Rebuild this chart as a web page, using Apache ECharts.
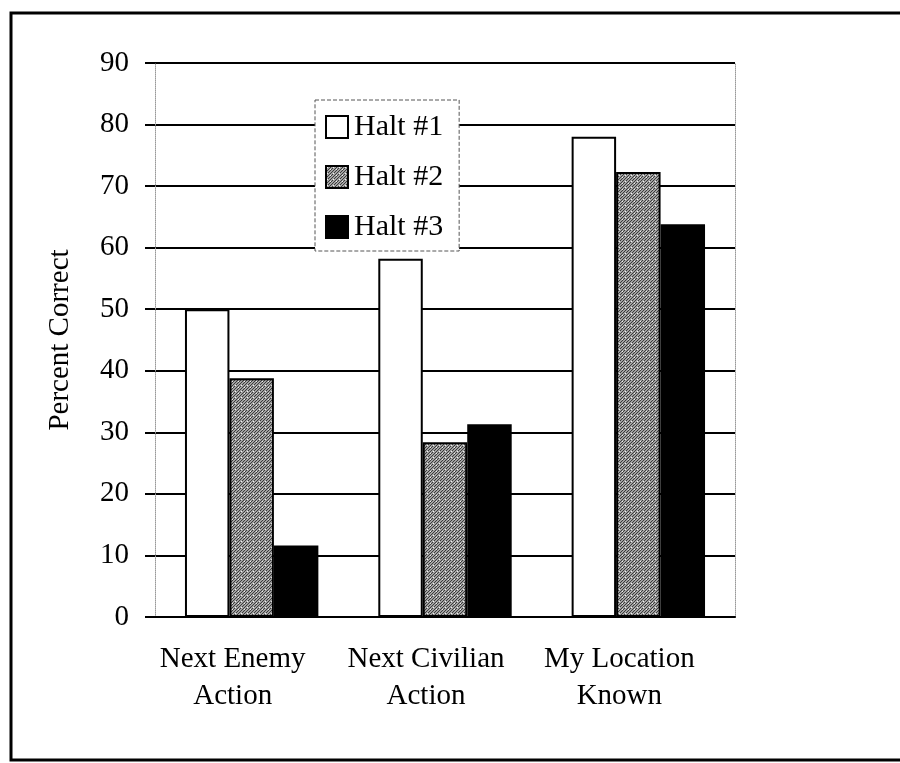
<!DOCTYPE html>
<html>
<head>
<meta charset="utf-8">
<script src="https://cdn.jsdelivr.net/npm/echarts@6/dist/echarts.min.js"></script>
<style>html,body{margin:0;padding:0;background:#fff}#c{width:900px;height:763px}</style>
</head>
<body>
<div id="c"></div>
<script>
const categories = ['Next Enemy\nAction', 'Next Civilian\nAction', 'My Location\nKnown'];
const seriesNames = ['Halt #1', 'Halt #2', 'Halt #3'];
const halt1 = [50, 58.2, 78];
const halt2 = [38.8, 28.4, 72.3];
const halt3 = [11.6, 31.3, 63.8];
const yTicks = { min: 0, max: 90, interval: 10 };

// gray stipple texture for Halt #2
const pc = document.createElement('canvas');
pc.width = 6; pc.height = 6;
const pctx = pc.getContext('2d');
pctx.fillStyle = '#a2a2a2';
pctx.fillRect(0, 0, 6, 6);
pctx.fillStyle = '#3a3a3a';
for (let i = 0; i < 6; i++) { pctx.fillRect(i, 5 - i, 1, 1); pctx.fillRect((i + 3) % 6, 5 - i, 1, 1); }
pctx.fillStyle = '#f0f0f0';
pctx.fillRect(1, 1, 1, 1); pctx.fillRect(4, 3, 1, 1);
const grayPattern = { image: pc, repeat: 'repeat' };

const font = 'Liberation Serif, Times New Roman, serif';
const fills = ['#ffffff', grayPattern, '#000000'];
const data = [halt1, halt2, halt3];

const chart = echarts.init(document.getElementById('c'), null, { renderer: 'canvas' });
chart.setOption({
  animation: false,
  backgroundColor: '#ffffff',
  textStyle: { fontFamily: font, color: '#000' },
  grid: { left: 155, right: 165, top: 63, bottom: 146 },
  legend: {
    orient: 'vertical',
    left: 315, top: 100,
    padding: [12, 16, 9, 10],
    itemGap: 20,
    itemWidth: 22, itemHeight: 22,
    icon: 'rect',
    backgroundColor: '#ffffff',
    borderColor: '#555',
    borderWidth: 1,
    borderType: 'dashed',
    textStyle: { fontFamily: font, fontSize: 30, color: '#000', padding: [0, 0, 0, 1] },
    data: seriesNames
  },
  xAxis: {
    type: 'category',
    data: categories,
    axisLine: { show: true, lineStyle: { color: '#000', width: 2 } },
    axisTick: { show: false },
    axisLabel: { interval: 0, fontFamily: font, fontSize: 29, color: '#000', lineHeight: 37, margin: 24, padding: [0, 38, 0, 0] }
  },
  yAxis: [{
    type: 'value',
    min: yTicks.min, max: yTicks.max, interval: yTicks.interval,
    name: 'Percent Correct',
    nameLocation: 'middle',
    nameRotate: 90,
    nameGap: 80,
    nameTextStyle: { fontFamily: font, fontSize: 29, color: '#000' },
    axisLine: { show: true, lineStyle: { color: '#999', width: 1, type: 'dotted' } },
    axisTick: { show: true, inside: false, length: 10, lineStyle: { color: '#000', width: 2 } },
    axisLabel: { fontFamily: font, fontSize: 29, color: '#000', margin: 26 },
    splitLine: { show: true, lineStyle: { color: '#000', width: 2 } }
  }, {
    type: 'value',
    position: 'right',
    min: yTicks.min, max: yTicks.max, interval: yTicks.interval,
    axisLine: { show: true, lineStyle: { color: '#999', width: 1, type: 'dotted' } },
    axisTick: { show: false },
    axisLabel: { show: false },
    splitLine: { show: false }
  }],
  series: seriesNames.map((n, i) => ({
    name: n,
    type: 'bar',
    yAxisIndex: 0,
    data: data[i],
    barGap: '0%',
    barCategoryGap: '31%',
    itemStyle: { color: fills[i], borderColor: '#000', borderWidth: 2 }
  })),
  graphic: [{
    type: 'rect',
    shape: { x: 11, y: 13, width: 900, height: 747 },
    style: { fill: 'none', stroke: '#000', lineWidth: 3 },
    silent: true
  }]
});
</script>
</body>
</html>
